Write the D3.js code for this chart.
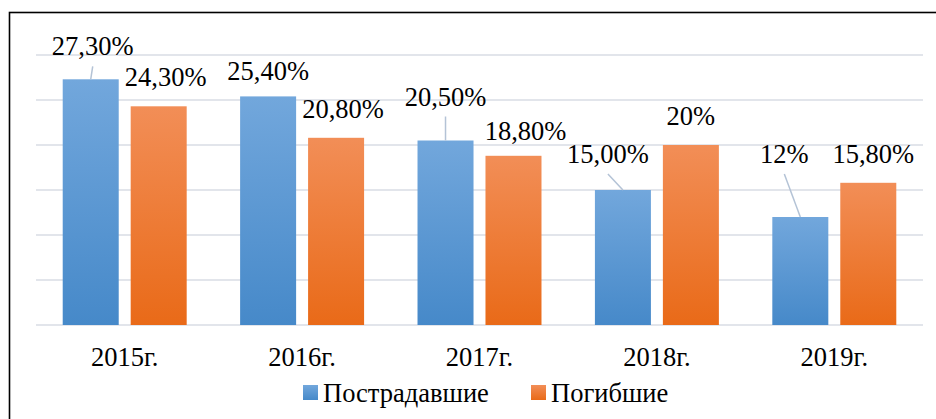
<!DOCTYPE html>
<html>
<head>
<meta charset="utf-8">
<script src="https://cdn.jsdelivr.net/npm/d3@7/dist/d3.min.js"></script>
<style>
  html, body { margin: 0; padding: 0; background: #fff; }
  svg { display: block; }
</style>
</head>
<body>
<svg id="chart" width="936" height="419"></svg>
<script>
// Data
const years = ["2015г.", "2016г.", "2017г.", "2018г.", "2019г."];
const seriesNames = ["Пострадавшие", "Погибшие"];
const injured = [27.3, 25.4, 20.5, 15.0, 12];
const killed = [24.3, 20.8, 18.8, 20, 15.8];
const injuredLabels = ["27,30%", "25,40%", "20,50%", "15,00%", "12%"];
const killedLabels = ["24,30%", "20,80%", "18,80%", "20%", "15,80%"];
const yTicks = [0, 5, 10, 15, 20, 25, 30];

// Label placement (offset of label centre / baseline from the bar top, leader line flag)
const injuredLabelPos = [
  { dx: 2, dy: -24, leader: true },
  { dx: 0, dy: -16, leader: false },
  { dx: 0, dy: -35, leader: true },
  { dx: -15, dy: -27, leader: true },
  { dx: -16, dy: -54, leader: true }
];
const killedLabelPos = [
  { dx: 7, dy: -20 },
  { dx: 7, dy: -20 },
  { dx: 12, dy: -16 },
  { dx: 0, dy: -20 },
  { dx: 5, dy: -20 }
];

const FONT = "'Liberation Serif', Tinos, 'Times New Roman', serif";

const svg = d3.select("#chart").attr("font-family", FONT);
const plot = { left: 36, right: 923, top: 55, bottom: 325 };
const fontSize = 26.5;

// Gradients
const defs = svg.append("defs");
function grad(id, top, bottom) {
  const g = defs.append("linearGradient").attr("id", id)
    .attr("x1", 0).attr("y1", 0).attr("x2", 0).attr("y2", 1);
  g.append("stop").attr("offset", "0%").attr("stop-color", top);
  g.append("stop").attr("offset", "100%").attr("stop-color", bottom);
}
grad("gBlue", "#72a7dc", "#4689c9");
grad("gOrange", "#f28e57", "#e96a18");
const fills = ["url(#gBlue)", "url(#gOrange)"];

// Outer frame
svg.append("rect")
  .attr("x", 9.5).attr("y", 12.5).attr("width", 1000).attr("height", 1000)
  .attr("fill", "none").attr("stroke", "#000").attr("stroke-width", 1.6);

// Scales
const x0 = d3.scaleBand().domain(years).range([plot.left, plot.right]).padding(0);
const x1 = d3.scaleBand().domain(seriesNames).range([0, x0.bandwidth()])
  .paddingInner(0.176).paddingOuter(0.393);
const y = d3.scaleLinear().domain([0, 30]).range([plot.bottom, plot.top]);

// Gridlines
svg.append("g").selectAll("line").data(yTicks).join("line")
  .attr("x1", plot.left).attr("x2", plot.right)
  .attr("y1", d => y(d)).attr("y2", d => y(d))
  .attr("stroke", "#d9dde5").attr("stroke-width", 1.5);

// Bars
const seriesData = [injured, killed];
seriesData.forEach((vals, si) => {
  svg.append("g").selectAll("rect").data(vals).join("rect")
    .attr("x", (d, i) => x0(years[i]) + x1(seriesNames[si]))
    .attr("y", d => y(d))
    .attr("width", x1.bandwidth())
    .attr("height", d => y(0) - y(d))
    .attr("fill", fills[si]);
});

// Data labels
function barCx(i, si) { return x0(years[i]) + x1(seriesNames[si]) + x1.bandwidth() / 2; }

const lab = svg.append("g").attr("font-size", fontSize).attr("text-anchor", "middle");
injured.forEach((v, i) => {
  const p = injuredLabelPos[i];
  const cx = barCx(i, 0), top = y(v);
  const lx = cx + p.dx, ly = top + p.dy;
  if (p.leader) {
    svg.append("line")
      .attr("x1", lx).attr("y1", ly + 11)
      .attr("x2", cx).attr("y2", top)
      .attr("stroke", "#b4c3d6").attr("stroke-width", 1.5);
  }
  lab.append("text").attr("x", lx).attr("y", ly).attr("fill", "#000").text(injuredLabels[i]);
});
killed.forEach((v, i) => {
  const p = killedLabelPos[i];
  const cx = barCx(i, 1), top = y(v);
  lab.append("text").attr("x", cx + p.dx).attr("y", top + p.dy).attr("fill", "#000").text(killedLabels[i]);
});

// Category axis labels
svg.append("g").attr("font-size", fontSize).attr("text-anchor", "middle")
  .selectAll("text").data(years).join("text")
  .attr("x", d => x0(d) + x0.bandwidth() / 2)
  .attr("y", 366)
  .attr("fill", "#000")
  .text(d => d);

// Legend
const legend = svg.append("g").attr("font-size", fontSize);
const legendX = [303, 531];
seriesNames.forEach((name, si) => {
  const g = legend.append("g").attr("transform", `translate(${legendX[si]},385)`);
  g.append("rect").attr("width", 15).attr("height", 15).attr("fill", fills[si]);
  g.append("text").attr("x", 20).attr("y", 17).attr("fill", "#000").text(name);
});
</script>
</body>
</html>
